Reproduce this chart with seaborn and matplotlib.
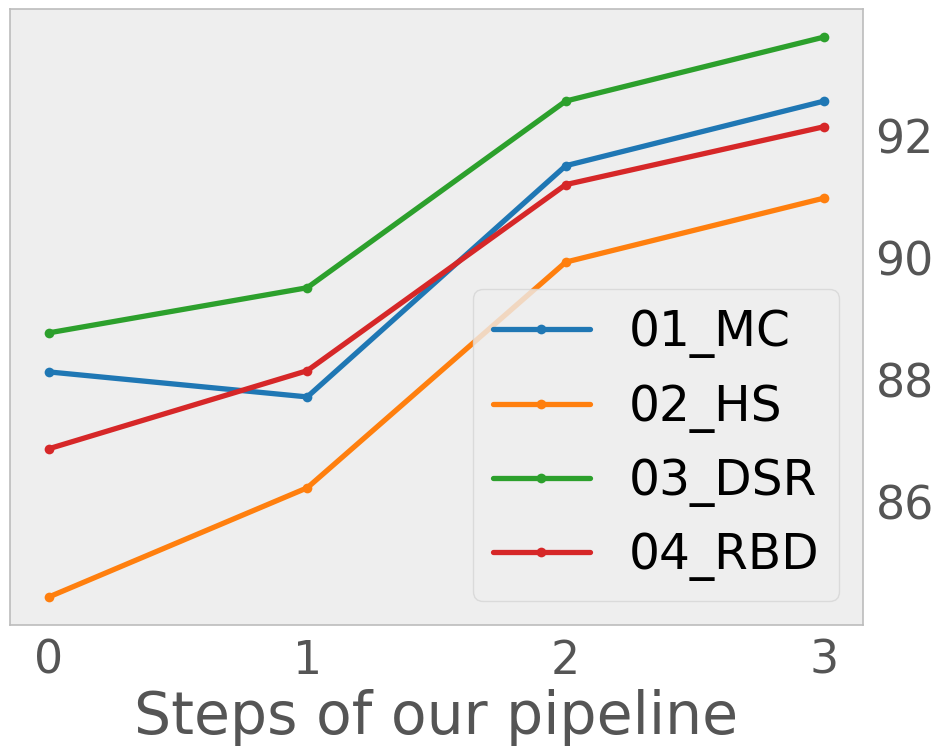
import matplotlib
matplotlib.use("Agg")
import matplotlib.pyplot as plt
import seaborn as sns
import pandas as pd

# 数据
steps = [0, 1, 2, 3]
methods = ["01_MC", "02_HS", "03_DSR", "04_RBD"]
mc = [88.13, 87.72, 91.51, 92.57]
hs = [84.44, 86.23, 89.93, 90.98]
dsr = [88.77, 89.51, 92.57, 93.62]
rbd = [86.87, 88.15, 91.20, 92.15]

rows = []
for name, vals in zip(methods, [mc, hs, dsr, rbd]):
    for s, v in zip(steps, vals):
        rows.append({"step": s, "score": v, "method": name})
df = pd.DataFrame(rows)

sns.set_style("white")
fig = plt.figure(figsize=(9.42, 7.54), dpi=100)
ax = fig.add_axes([10 / 942, 129 / 754, 853 / 942, 616 / 754])
ax.set_facecolor("#eeeeee")

sns.lineplot(data=df, x="step", y="score", hue="method", style="method",
             markers=["o"] * 4, dashes=False, palette="tab10",
             linewidth=3.8, markersize=7, markeredgewidth=0, ax=ax)

ax.yaxis.tick_right()
ax.set_xticks(steps)
ax.set_yticks([86, 88, 90, 92])
ax.tick_params(axis="both", length=0, labelsize=33, labelcolor="#555555")
ax.tick_params(axis="x", pad=10)
ax.tick_params(axis="y", pad=9)
ax.set_xlabel("Steps of our pipeline", fontsize=42, color="#555555", labelpad=4)
ax.set_ylabel("")
for sp in ax.spines.values():
    sp.set_color("#bcbcbc")
    sp.set_linewidth(1.2)
ax.grid(False)

leg = ax.legend(loc="lower right", fontsize=35, labelspacing=0.5,
                handlelength=2.0, frameon=True, facecolor="#eeeeee",
                edgecolor="#d5d5d5", framealpha=0.8, title=None)
for line in leg.get_lines():
    line.set_linewidth(3.8)
for t in leg.get_texts():
    t.set_color("black")

fig.savefig("out.png", dpi=100)
